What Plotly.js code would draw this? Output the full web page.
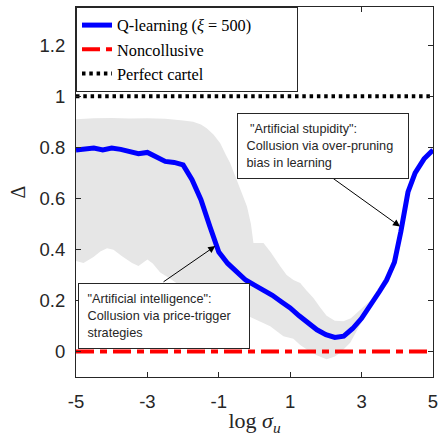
<!DOCTYPE html>
<html>
<head>
<meta charset="utf-8">
<script src="https://cdn.plot.ly/plotly-3.0.1.min.js"></script>
<style>html,body{margin:0;padding:0;background:#fff;}#chart{width:440px;height:436px;}</style>
</head>
<body>
<div id="chart"></div>
<script>
// Q-learning mean collusion index
const qX = [-5,-4.75,-4.5,-4.25,-4,-3.75,-3.5,-3.25,-3,-2.75,-2.5,-2.25,-2,-1.75,-1.5,-1.25,-1,-0.75,-0.5,-0.25,0,0.25,0.5,0.75,1,1.25,1.5,1.75,2,2.25,2.5,2.75,3,3.25,3.5,3.7,3.92,4.1,4.3,4.5,4.75,5];
const qY = [0.79,0.792,0.797,0.79,0.797,0.792,0.785,0.775,0.78,0.765,0.745,0.741,0.731,0.673,0.595,0.49,0.39,0.345,0.31,0.28,0.26,0.242,0.22,0.195,0.171,0.14,0.112,0.085,0.066,0.055,0.06,0.09,0.13,0.18,0.235,0.28,0.35,0.47,0.625,0.70,0.755,0.79];
// shaded band (upper and lower bounds)
const bandUpX = [-5,-4.5,-4,-3.5,-3,-2.5,-2,-1.72,-1.5,-1.34,-1.15,-0.96,-0.8,-0.68,-0.5,-0.35,-0.21,-0.1,-0.03,0.25,0.45,0.72,0.9,1.09,1.28,1.45,1.65,1.85,2.02,2.25,2.49,2.7,2.86,3.0,3.25,3.5,3.7,3.9,4.08,4.28,4.5,4.75,5];
const bandUpY = [0.91,0.914,0.915,0.913,0.914,0.912,0.905,0.9,0.89,0.875,0.85,0.816,0.77,0.738,0.673,0.62,0.568,0.5,0.425,0.425,0.39,0.334,0.3,0.28,0.268,0.24,0.21,0.17,0.14,0.12,0.118,0.13,0.15,0.165,0.2,0.255,0.3,0.37,0.49,0.64,0.712,0.765,0.8];
const bandLoX = [-5,-4.79,-4.51,-4.32,-4.13,-3.95,-3.71,-3.43,-3.25,-3.0,-2.85,-2.64,-2.36,-2.1,-1.5,-1.0,-0.5,-0.12,0.44,0.81,1.09,1.28,1.5,1.74,2.02,2.25,2.4,2.68,2.9,3.1,3.5,3.75,3.95,4.12,4.32,4.5,4.75,5];
const bandLoY = [0.355,0.347,0.37,0.392,0.405,0.399,0.373,0.347,0.335,0.36,0.345,0.31,0.285,0.26,0.22,0.18,0.145,0.135,0.099,0.06,0.05,0.025,0.005,-0.015,-0.03,-0.02,-0.005,0.034,0.09,0.14,0.22,0.27,0.35,0.46,0.61,0.688,0.745,0.78];
const xRange = [-5, 5];
const noncollusive = [0, 0];
const perfectCartel = [1, 1];
const xTicks = [-5,-3,-1,1,3,5];
const yTicks = [0,0.2,0.4,0.6,0.8,1,1.2];
const yTickText = ['0','0.2','0.4','0.6','0.8','1','1.2'];
const seriesNames = ['Q-learning (<i>ξ</i> = 500)', 'Noncollusive', 'Perfect cartel'];
const boxIntelligence = ['"Artificial intelligence":','Collusion via price-trigger','strategies'];
const boxStupidity = [' "Artificial stupidity":','Collusion via over-pruning','bias in learning'];
const arrowIntel = {head:[-1.1,0.413], tail:[-2.59,0.269], box:[-4.944,0.2687]};
const arrowStupid = {head:[4.076,0.49], tail:[2.165,0.682], box:[-0.494,0.9335]};

const nb = '\u00a0';
const band = {
  x: bandUpX.concat(bandLoX.slice().reverse()),
  y: bandUpY.concat(bandLoY.slice().reverse()),
  type:'scatter', mode:'lines', fill:'toself', fillcolor:'#e6e6e6',
  line:{width:0, color:'#e6e6e6'}, showlegend:false, hoverinfo:'skip'
};
const qTrace = {x:qX, y:qY, type:'scatter', mode:'lines', name: seriesNames[0] + nb.repeat(10),
  line:{color:'#0000ff', width:5}};
const ncTrace = {x:xRange, y:noncollusive, type:'scatter', mode:'lines', name: seriesNames[1],
  line:{color:'#ff0000', width:4, dash:'18px,6px,7px,6px'}};
const pcTrace = {x:xRange, y:perfectCartel, type:'scatter', mode:'lines', name: seriesNames[2],
  line:{color:'#000000', width:4, dash:'3.5px,3.8px'}};

function boxAnn(lines, pos){
  return {x:pos[0], y:pos[1], xref:'x', yref:'y', xanchor:'left', yanchor:'top',
    text: lines.map(l => nb + l.replace(/^ /, nb)).join('<br>'), align:'left', showarrow:false,
    width:160, height:54, borderpad:5, bordercolor:'#262626', borderwidth:1, bgcolor:'#ffffff',
    font:{family:'Liberation Sans, Arial, sans-serif', size:12.7, color:'#262626'}};
}
function arrowAnn(a){
  return {x:a.head[0], y:a.head[1], ax:a.tail[0], ay:a.tail[1], xref:'x', yref:'y', axref:'x', ayref:'y',
    text:'', showarrow:true, arrowhead:2, arrowsize:1.4, arrowwidth:1, arrowcolor:'#000', standoff:0, startstandoff:0};
}

const axisCommon = {showgrid:false, zeroline:false, showline:true, linecolor:'#262626', linewidth:1,
  mirror:'allticks', ticks:'inside', ticklen:5, tickcolor:'#262626', tickwidth:1,
  tickfont:{family:'Liberation Sans, Arial, sans-serif', size:18.5, color:'#262626'}};

const layout = {
  width:440, height:436,
  margin:{l:76, r:7, t:7, b:59},
  paper_bgcolor:'#fff', plot_bgcolor:'#fff',
  showlegend:true,
  legend:{x:0, y:1, xanchor:'left', yanchor:'top', bgcolor:'#fff', bordercolor:'#262626', borderwidth:1,
    font:{family:'Liberation Serif, Times New Roman, serif', size:16.3, color:'#000'}, tracegroupgap:0},
  xaxis:Object.assign({}, axisCommon, {range:xRange, tickmode:'array', tickvals:xTicks, ticktext:xTicks.map(String), ticklabelstandoff:8,
    title:{text:'log <i>σ</i><sub><i>u</i></sub>', font:{family:'Liberation Serif, Times New Roman, serif', size:22, color:'#262626'}, standoff:1}}),
  yaxis:Object.assign({}, axisCommon, {range:[-0.1,1.35], tickmode:'array', tickvals:yTicks, ticktext:yTickText, ticklabelstandoff:6,
    title:{text:'Δ', font:{family:'Liberation Serif, Times New Roman, serif', size:20, color:'#262626'}, standoff:8}}),
  annotations:[arrowAnn(arrowIntel), arrowAnn(arrowStupid), boxAnn(boxIntelligence, arrowIntel.box), boxAnn(boxStupidity, arrowStupid.box)]
};

Plotly.newPlot('chart', [band, qTrace, ncTrace, pcTrace], layout, {displayModeBar:false, staticPlot:true});
</script>
</body>
</html>
